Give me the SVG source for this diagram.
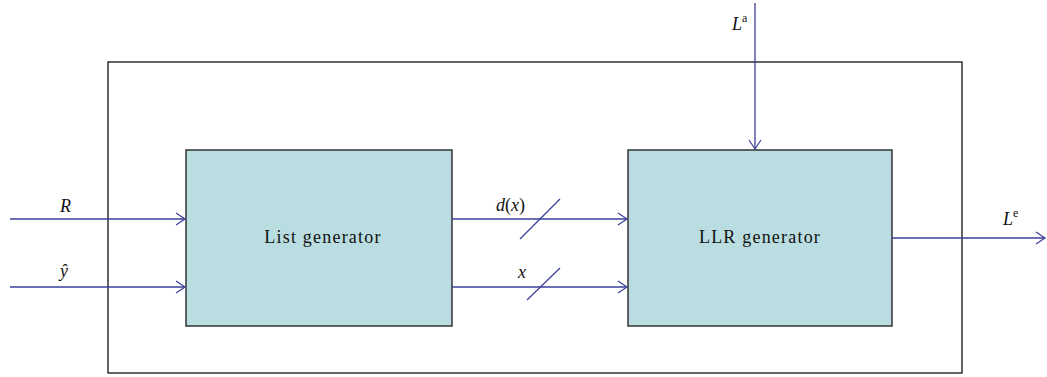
<svg xmlns="http://www.w3.org/2000/svg" width="1047" height="377" viewBox="0 0 1047 377">
<style>
.box{fill:#b9dde0;stroke:#333;stroke-width:1.5}
.w{stroke:#3a3f9a;stroke-width:1.3;fill:none}
.t{font-family:"Liberation Serif",serif;font-size:18px;fill:#111}
.lbl{letter-spacing:1.2px}
.i{font-style:italic}
</style>
<defs>
<marker id="a" markerWidth="12" markerHeight="14" refX="10" refY="7" orient="auto" markerUnits="userSpaceOnUse">
<path d="M1,1 L10,7 L1,13" fill="none" stroke="#3a3f9a" stroke-width="1.2"/>
</marker>
</defs>
<rect id="outer" x="108" y="62" width="854" height="311" fill="none" stroke="#111" stroke-width="1.3"/>
<g id="list">
<rect class="box" x="186" y="150" width="266" height="176"/>
<text class="t lbl" x="323" y="243" text-anchor="middle">List generator</text>
</g>
<g id="llr">
<rect class="box" x="628" y="150" width="264" height="176"/>
<text class="t lbl" x="760" y="243" text-anchor="middle">LLR generator</text>
</g>
<g id="connectors">
<line class="w" x1="10" y1="219" x2="185" y2="219" marker-end="url(#a)"/>
<line class="w" x1="10" y1="287" x2="185" y2="287" marker-end="url(#a)"/>
<line class="w" x1="452" y1="219" x2="627" y2="219" marker-end="url(#a)"/>
<line class="w" x1="452" y1="287" x2="627" y2="287" marker-end="url(#a)"/>
<line class="w" x1="520" y1="239" x2="560" y2="199"/>
<line class="w" x1="527" y1="300" x2="560" y2="268"/>
<line class="w" x1="755" y1="3" x2="755" y2="149" marker-end="url(#a)"/>
<line class="w" x1="892" y1="238" x2="1045" y2="238" marker-end="url(#a)"/>
</g>
<g id="labels">
<text class="t i" x="60" y="212">R</text>
<text class="t i" x="60" y="277">ŷ</text>
<text class="t" x="496" y="211"><tspan class="i">d</tspan>(<tspan class="i">x</tspan>)</text>
<text class="t i" x="518" y="278">x</text>
<text class="t" x="732" y="30"><tspan class="i">L</tspan><tspan font-size="12" dy="-8">a</tspan></text>
<text class="t" x="1003" y="225"><tspan class="i">L</tspan><tspan font-size="12" dy="-8">e</tspan></text>
</g>
</svg>
